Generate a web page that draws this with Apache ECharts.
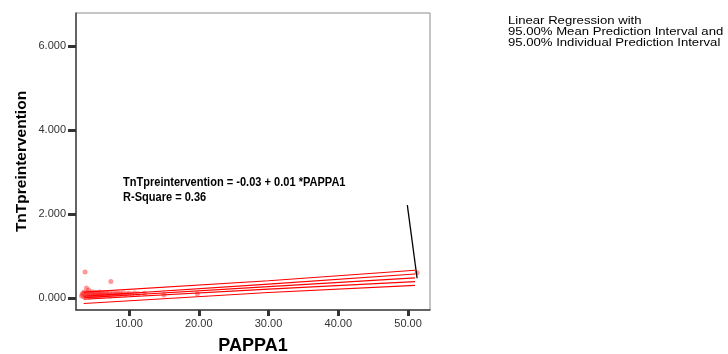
<!DOCTYPE html>
<html><head><meta charset="utf-8">
<script src="https://cdn.jsdelivr.net/npm/echarts@6/dist/echarts.min.js"></script>
<style>html,body{margin:0;padding:0;background:#fff}#c{width:728px;height:354px}</style>
</head><body><div id="c"></div>
<script>
// Observed points (PAPPA1, TnTpreintervention)
const points = [
  [3.2,0.05],[3.3,0.09],[3.4,0.12],[3.5,0.03],[3.6,0.14],[3.7,0.62],[3.8,0.07],[3.9,0.24],
  [4.0,0.04],[4.0,0.10],[4.1,0.13],[4.2,0.19],[4.3,0.06],[4.4,0.02],[4.5,0.11],[4.6,0.08],
  [4.7,0.15],[4.8,0.05],[4.9,0.12],[5.0,0.03],[5.1,0.09],[5.2,0.13],[5.3,0.06],[5.4,0.10],
  [5.5,0.04],[5.6,0.12],[5.7,0.08],[5.8,0.14],[5.9,0.05],[6.0,0.10],[6.1,0.07],[6.2,0.12],
  [6.4,0.05],[6.5,0.09],[6.6,0.13],[6.8,0.06],[6.9,0.10],[7.0,0.08],[7.2,0.12],[7.3,0.05],
  [7.4,0.39],[7.5,0.09],[7.7,0.11],[7.9,0.07],[8.1,0.10],[8.3,0.12],[8.5,0.08],[8.7,0.11],
  [8.9,0.09],[9.2,0.12],[9.4,0.08],[9.7,0.10],[10.0,0.11],[10.4,0.09],[10.8,0.12],[11.3,0.10],
  [12.2,0.11],[15.0,0.07],[19.8,0.10],[51.3,0.60]
];
// Fitted line and interval bounds read at PAPPA1 = 3.5, 30, 51
const lineX      = [3.5, 30, 51];
const fitY       = [0.005, 0.27, 0.48];
const meanUpperY = [0.04, 0.33, 0.57];
const meanLowerY = [-0.03, 0.21, 0.39];
const indUpperY  = [0.14, 0.41, 0.66];
const indLowerY  = [-0.13, 0.13, 0.30];
const leader = [[49.9, 2.21],[51.3, 0.47]];
const xTicks = [10, 20, 30, 40, 50];
const yTicks = [0, 2, 4, 6];
const xTitle = 'PAPPA1';
const yTitle = 'TnTpreintervention';
const equation = ['TnTpreintervention = -0.03 + 0.01 *PAPPA1', 'R-Square = 0.36'];
const legendLines = ['Linear Regression with', '95.00% Mean Prediction Interval and', '95.00% Individual Prediction Interval'];

const zip = ys => lineX.map((x,i)=>[x, ys[i]]);
const lineStyle = {color:'#ff0000', width:1.1};
const mkLine = (name, ys) => ({name, type:'line', data: zip(ys), symbol:'none', lineStyle, z:3, silent:true});

const chart = echarts.init(document.getElementById('c'), null, {renderer:'canvas'});
const FONT = 'Liberation Sans, Arial, sans-serif';
chart.setOption({
  animation:false,
  grid:{left:76, right:298, top:13, bottom:44, outerBoundsMode:'none', containLabel:false,
    show:true, borderColor:'#8c8c8c', borderWidth:1, backgroundColor:'transparent'},
  xAxis:{type:'value', min:2.4, max:53.15,
    axisLine:{show:true, onZero:false, lineStyle:{color:'#444', width:1.5}},
    axisTick:{show:true, customValues:xTicks, length:6, lineStyle:{color:'#333', width:3}},
    axisLabel:{customValues:xTicks, formatter:v=>v.toFixed(2), color:'#333', fontFamily:FONT, fontSize:11, margin:8},
    splitLine:{show:false},
    name:xTitle, nameLocation:'middle', nameGap:27, nameTextStyle:{fontFamily:FONT, fontWeight:'bold', fontSize:18, color:'#000'}
  },
  yAxis:{type:'value', min:-0.286, max:6.786,
    axisLine:{show:true, onZero:false, lineStyle:{color:'#444', width:1.5}},
    axisTick:{show:true, customValues:yTicks, length:8, lineStyle:{color:'#333', width:3}},
    axisLabel:{customValues:yTicks, formatter:v=>v.toFixed(3), color:'#333', fontFamily:FONT, fontSize:11, margin:10},
    splitLine:{show:false},
    name:yTitle, nameLocation:'middle', nameGap:46, nameTextStyle:{fontFamily:FONT, fontWeight:'bold', fontSize:15.5, color:'#000'}
  },
  series:[
    {type:'scatter', data:points, symbol:'circle', symbolSize:5, itemStyle:{color:'rgba(255,40,40,0.6)'}, z:2},
    mkLine('fit', fitY),
    mkLine('meanUpper', meanUpperY),
    mkLine('meanLower', meanLowerY),
    mkLine('indUpper', indUpperY),
    mkLine('indLower', indLowerY),
    {type:'line', data:leader, symbol:'none', lineStyle:{color:'#000', width:1.3}, z:4, silent:true}
  ],
  graphic:[
    {type:'text', x:123, y:175, scaleX:0.85, style:{text:equation.join('\n'), font:'bold 13px '+FONT, fill:'#000', lineHeight:15}},
    {type:'text', x:508, y:16, scaleX:1.25, style:{text:legendLines.join('\n'), font:'10.5px '+FONT, fill:'#000', lineHeight:11}}
  ]
});
</script></body></html>
